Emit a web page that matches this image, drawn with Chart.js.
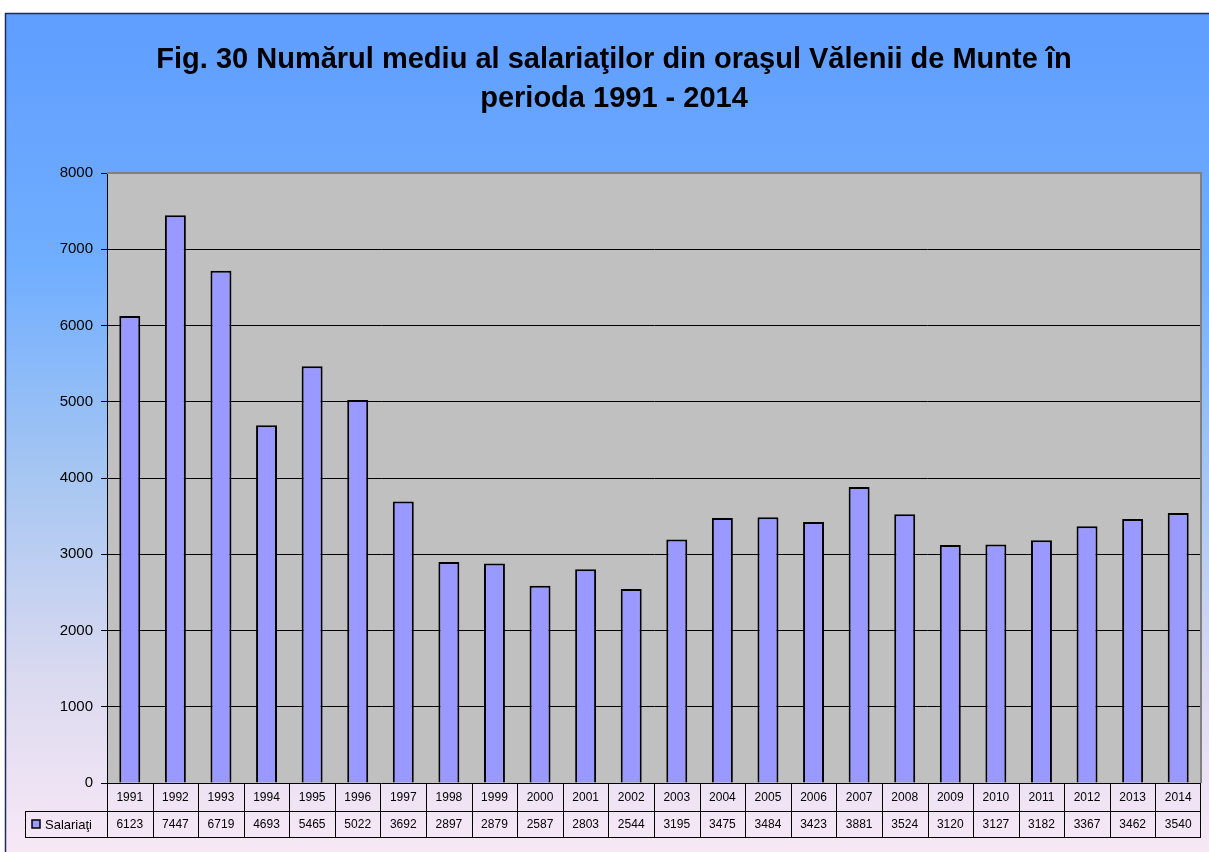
<!DOCTYPE html>
<html>
<head>
<meta charset="utf-8">
<script src="https://cdn.jsdelivr.net/npm/chart.js@4/dist/chart.umd.min.js"></script>
<style>
  html, body { margin: 0; padding: 0; background: #fff; overflow: hidden; }
  #wrap { position: absolute; left: 0; top: 0; width: 1209px; height: 852px; }
</style>
</head>
<body>
<div id="wrap"><canvas id="chart" width="1209" height="852"></canvas></div>
<script>
// Data
const years = ['1991', '1992', '1993', '1994', '1995', '1996', '1997', '1998', '1999', '2000', '2001', '2002',
               '2003', '2004', '2005', '2006', '2007', '2008', '2009', '2010', '2011', '2012', '2013', '2014'];
const salariati = [6123, 7447, 6719, 4693, 5465, 5022, 3692, 2897, 2879, 2587, 2803, 2544,
                   3195, 3475, 3484, 3423, 3881, 3524, 3120, 3127, 3182, 3367, 3462, 3540];
const seriesName = 'Salariaţi';
const titleLines = ['Fig. 30 Numărul mediu al salariaţilor din oraşul Vălenii de Munte în', 'perioda 1991 - 2014'];
const yTicks = [0, 1000, 2000, 3000, 4000, 5000, 6000, 7000, 8000];

const FONT = '"Liberation Sans", Arial, sans-serif';
const BAR_COLOR = '#9999ff';

// background frame, plot fill, title and the data table below the axis
const decor = {
    id: 'decor',
    beforeDraw(chart) {
        const { ctx, chartArea: a } = chart;
        ctx.save();
        ctx.fillStyle = '#fff';
        ctx.fillRect(0, 0, chart.width, chart.height);
        const g = ctx.createLinearGradient(0, 13, 0, chart.height);
        g.addColorStop(0, '#5f9dff');
        g.addColorStop(0.3, '#70aeff');
        g.addColorStop(0.55, '#a6c6f2');
        g.addColorStop(0.8, '#dcdaf0');
        g.addColorStop(1, '#f8e8f6');
        ctx.fillStyle = g;
        ctx.fillRect(5, 13, chart.width, chart.height);
        ctx.strokeStyle = '#1c2c5c';
        ctx.lineWidth = 1.5;
        ctx.strokeRect(5.5, 13.5, chart.width + 10, chart.height + 10);

        ctx.fillStyle = '#c0c0c0';
        ctx.fillRect(a.left, a.top, a.right - a.left, a.bottom - a.top);

        ctx.fillStyle = '#000';
        ctx.font = 'bold 29px ' + FONT;
        ctx.textAlign = 'center';
        ctx.textBaseline = 'middle';
        ctx.fillText(titleLines[0], 614, 60);
        ctx.fillText(titleLines[1], 614, 99);
        ctx.restore();
    },
    afterDraw(chart) {
        const { ctx, chartArea: a } = chart;
        const x = chart.scales.x;
        const half = (a.right - a.left) / years.length / 2;
        const row1 = a.bottom, row2 = 811, row3 = 837, legendLeft = 25;
        ctx.save();

        // plot frame top/right in gray
        ctx.strokeStyle = '#808080';
        ctx.lineWidth = 2;
        ctx.beginPath();
        ctx.moveTo(a.left, a.top);
        ctx.lineTo(a.right, a.top);
        ctx.lineTo(a.right, a.bottom);
        ctx.stroke();

        // table grid
        ctx.strokeStyle = '#000';
        ctx.lineWidth = 1;
        ctx.beginPath();
        ctx.moveTo(legendLeft, row2 + 0.5); ctx.lineTo(a.right, row2 + 0.5);
        ctx.moveTo(legendLeft, row3 + 0.5); ctx.lineTo(a.right, row3 + 0.5);
        ctx.moveTo(legendLeft + 0.5, row2); ctx.lineTo(legendLeft + 0.5, row3);
        years.forEach((y, i) => {
            const bx = Math.round(x.getPixelForValue(i) - half) + 0.5;
            ctx.moveTo(bx, row1); ctx.lineTo(bx, row3);
        });
        ctx.moveTo(Math.round(a.right) - 0.5, row1); ctx.lineTo(Math.round(a.right) - 0.5, row3);
        ctx.stroke();

        // table text
        ctx.fillStyle = '#000';
        ctx.font = '12px ' + FONT;
        ctx.textAlign = 'center';
        ctx.textBaseline = 'middle';
        years.forEach((y, i) => {
            const cx = x.getPixelForValue(i);
            ctx.fillText(y, cx, (row1 + row2) / 2 + 1);
            ctx.fillText(String(salariati[i]), cx, (row2 + row3) / 2 + 1);
        });

        // legend key
        ctx.fillStyle = BAR_COLOR;
        ctx.fillRect(32, 820, 8, 8);
        ctx.strokeStyle = '#000';
        ctx.lineWidth = 1.5;
        ctx.strokeRect(32, 820, 8, 8);
        ctx.fillStyle = '#000';
        ctx.textAlign = 'left';
        ctx.font = '13px ' + FONT;
        ctx.fillText(seriesName, 45, (row2 + row3) / 2 + 1);
        ctx.restore();
    }
};

new Chart(document.getElementById('chart'), {
    type: 'bar',
    data: {
        labels: years,
        datasets: [{
            label: seriesName,
            data: salariati,
            backgroundColor: BAR_COLOR,
            borderColor: '#000',
            borderWidth: 2,
            borderSkipped: 'bottom',
            categoryPercentage: 1,
            barPercentage: 0.46
        }]
    },
    options: {
        responsive: false,
        animation: false,
        layout: { padding: { top: 173, left: 0, right: 8, bottom: 69 } },
        plugins: {
            legend: { display: false },
            title: { display: false },
            tooltip: { enabled: false }
        },
        scales: {
            x: { display: false, offset: true },
            y: {
                min: 0,
                max: 8000,
                afterFit(scale) { scale.width = 107; },
                afterBuildTicks(scale) { scale.ticks = yTicks.map(v => ({ value: v })); },
                ticks: {
                    color: '#000',
                    font: { family: FONT, size: 15 },
                    padding: 8,
                    callback: v => String(v)
                },
                grid: {
                    color: '#000',
                    lineWidth: 1,
                    tickLength: 6,
                    drawOnChartArea: true
                },
                border: { display: true, color: '#000', width: 1 }
            }
        }
    },
    plugins: [decor]
});
</script>
</body>
</html>
